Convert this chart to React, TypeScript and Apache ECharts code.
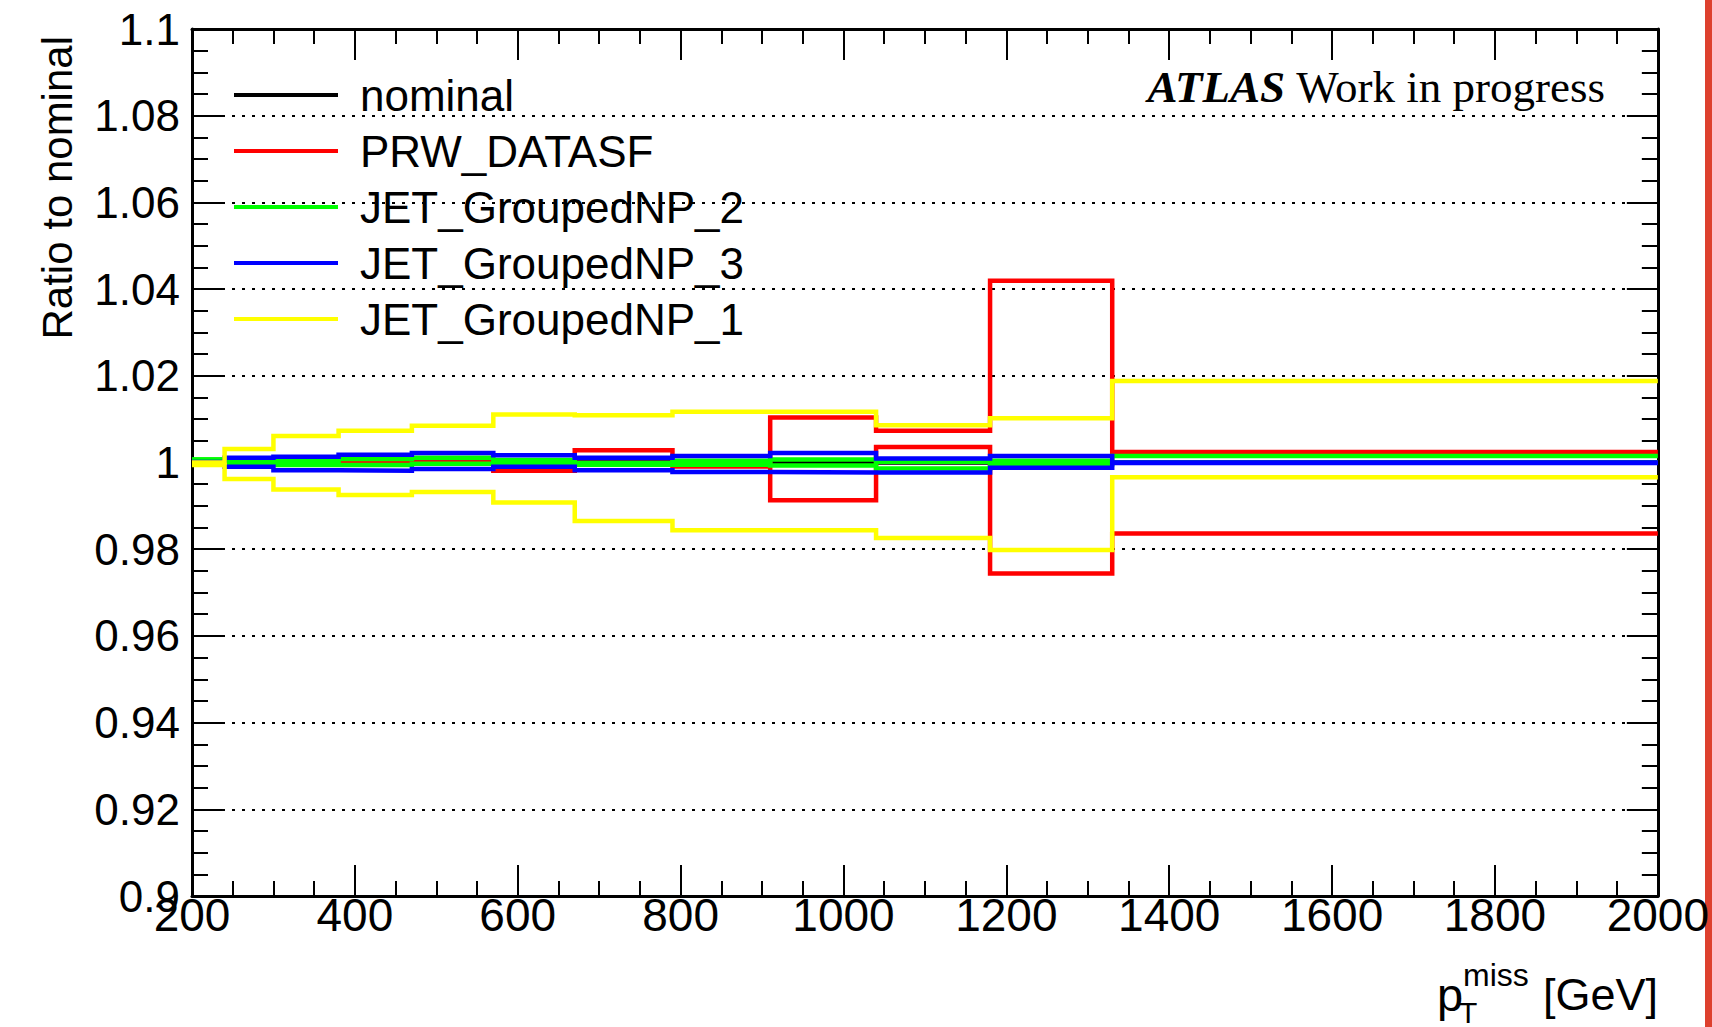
import React, { useEffect, useRef } from "react";
import * as echarts from "echarts";

// Bin edges of the missing-pT histogram [GeV]
const binEdges = [200, 240, 300, 380, 470, 570, 670, 790, 910, 1040, 1180, 1330, 2000];

// Ratios to nominal, one value per bin
const nominal = [1, 1, 1, 1, 1, 1, 1, 1, 1, 1, 1, 1];
const prwUp = [1.0, 1.0002, 1.0, 1.0, 1.0, 1.0, 1.0028, 1.0, 1.0104, 1.0073, 1.0419, 1.0024];
const prwDown = [1.0, 1.0, 1.0, 1.0, 0.9998, 0.9981, 0.9996, 0.9991, 0.9913, 1.0036, 0.9744, 0.9836];
const np2Up = [1.0007, 1.0001, 1.0004, 1.0008, 1.0011, 1.0006, 0.9998, 1.0004, 1.0007, 1.0002, 1.0004, 1.0015];
const np2Down = [1.0007, 0.9999, 0.9994, 0.9994, 0.9997, 0.9997, 0.9995, 0.9995, 0.9993, 0.9986, 0.9996, 1.0];
const np3Up = [1.0001, 1.0011, 1.0013, 1.0018, 1.0022, 1.0017, 1.0011, 1.0015, 1.0022, 1.0009, 1.0015, 1.0];
const np3Down = [0.9999, 0.999, 0.9982, 0.9981, 0.9985, 0.999, 0.9982, 0.9978, 0.9977, 0.9977, 0.9988, 0.9999];
const np1Up = [1.0, 1.0031, 1.0061, 1.0073, 1.0085, 1.0111, 1.0109, 1.0117, 1.0117, 1.0086, 1.0102, 1.0188];
const np1Down = [0.9994, 0.9962, 0.9938, 0.9925, 0.9932, 0.9908, 0.9865, 0.9844, 0.9844, 0.9826, 0.9798, 0.9966];

const xTicks = { min: 200, max: 2000, step: 200 };
const yTicks = { min: 0.9, max: 1.1, step: 0.02 };

const legendNames = ["nominal", "PRW_DATASF", "JET_GroupedNP_2", "JET_GroupedNP_3", "JET_GroupedNP_1"];
const legendColors = ["#000000", "#ff0000", "#00ff00", "#0000ff", "#ffff00"];

const SANS = "'Liberation Sans', Arial, Helvetica, sans-serif";
const SERIF = "'Liberation Serif', 'Times New Roman', serif";

// Turn per-bin values into an outline of a step histogram
function histOutline(values: number[]): number[][] {
  const pts: number[][] = [];
  values.forEach((v, i) => {
    pts.push([binEdges[i], v]);
    pts.push([binEdges[i + 1], v]);
  });
  return pts;
}

function histSeries(name: string, color: string, values: number[]) {
  return {
    type: "line",
    name,
    data: histOutline(values),
    showSymbol: false,
    symbol: "none",
    color,
    itemStyle: { color },
    lineStyle: { color, width: 4.5, join: "miter", cap: "butt" },
    silent: true,
  };
}

function makeAxis(extra: any, range: { min: number; max: number; step: number }, tickLen: number, minorLen: number) {
  return {
    type: "value",
    min: range.min,
    max: range.max,
    interval: range.step,
    axisLine: { show: true, onZero: false, lineStyle: { color: "#000", width: 3 } },
    axisTick: { show: true, inside: true, length: tickLen, lineStyle: { color: "#000", width: 2 } },
    minorTick: { show: true, splitNumber: 4, length: minorLen, lineStyle: { color: "#000", width: 2 } },
    splitLine: { show: false },
    ...extra,
  };
}

export default function App() {
  const ref = useRef<HTMLDivElement>(null);

  useEffect(() => {
    if (!ref.current) return;
    const chart = echarts.init(ref.current, undefined, { renderer: "svg" });

    const series = [
      histSeries("nominal", legendColors[0], nominal),
      histSeries("PRW_DATASF", legendColors[1], prwUp),
      histSeries("PRW_DATASF", legendColors[1], prwDown),
      histSeries("JET_GroupedNP_2", legendColors[2], np2Up),
      histSeries("JET_GroupedNP_2", legendColors[2], np2Down),
      histSeries("JET_GroupedNP_3", legendColors[3], np3Up),
      histSeries("JET_GroupedNP_3", legendColors[3], np3Down),
      histSeries("JET_GroupedNP_1", legendColors[4], np1Up),
      histSeries("JET_GroupedNP_1", legendColors[4], np1Down),
    ];

    chart.setOption({
      animation: false,
      backgroundColor: "#ffffff",
      grid: { left: 192, right: 45, top: 29, bottom: 131, containLabel: false },
      xAxis: [
        makeAxis(
          {
            position: "bottom",
            axisLabel: {
              show: true,
              fontSize: 46,
              fontFamily: SANS,
              color: "#000",
              margin: -4,
              formatter: (v: number) => String(v),
            },
          },
          xTicks,
          31,
          15
        ),
        makeAxis({ position: "top", axisLabel: { show: false } }, xTicks, 31, 15),
      ],
      yAxis: [
        makeAxis(
          {
            position: "left",
            axisLabel: {
              show: true,
              fontSize: 44,
              fontFamily: SANS,
              color: "#000",
              margin: 12,
              formatter: (v: number) => String(parseFloat(v.toFixed(3))),
            },
            splitLine: { show: true, lineStyle: { color: "#000", width: 2, type: [3, 7] } },
          },
          yTicks,
          31,
          16
        ),
        makeAxis({ position: "right", axisLabel: { show: false } }, yTicks, 31, 16),
      ],
      legend: {
        data: legendNames,
        orient: "vertical",
        left: 234,
        top: 67,
        padding: 0,
        itemGap: 0,
        itemWidth: 104,
        itemHeight: 4,
        icon: "rect",
        selectedMode: false,
        textStyle: {
          fontSize: 44,
          fontFamily: SANS,
          color: "#000",
          lineHeight: 56,
          padding: [0, 0, 0, 17],
        },
      },
      series,
      graphic: [
        {
          type: "text",
          x: 1605,
          y: 87,
          style: {
            text: "{a|ATLAS}{b|\u00a0Work in progress}",
            align: "right",
            verticalAlign: "middle",
            rich: {
              a: { fontFamily: SERIF, fontSize: 45, fontWeight: "bold", fontStyle: "italic", fill: "#000" },
              b: { fontFamily: SERIF, fontSize: 45, fill: "#000" },
            },
          },
        },
        {
          type: "text",
          x: 57,
          y: 36,
          rotation: Math.PI / 2,
          style: {
            text: "Ratio to nominal",
            fontFamily: SANS,
            fontSize: 42,
            fill: "#000",
            align: "right",
            verticalAlign: "middle",
          },
        },
        {
          type: "text",
          x: 1437,
          y: 994,
          style: { text: "p", fontFamily: SANS, fontSize: 47, fill: "#000", align: "left", verticalAlign: "middle" },
        },
        {
          type: "text",
          x: 1463,
          y: 975,
          style: { text: "miss", fontFamily: SANS, fontSize: 32, fill: "#000", align: "left", verticalAlign: "middle" },
        },
        {
          type: "text",
          x: 1459,
          y: 1012,
          style: { text: "T", fontFamily: SANS, fontSize: 30, fill: "#000", align: "left", verticalAlign: "middle" },
        },
        {
          type: "text",
          x: 1658,
          y: 994,
          style: { text: "[GeV]", fontFamily: SANS, fontSize: 45, fill: "#000", align: "right", verticalAlign: "middle" },
        },
        {
          type: "rect",
          shape: { x: 1705, y: 0, width: 7, height: 1027 },
          style: { fill: "#dd402e" },
        },
      ],
    });

    return () => chart.dispose();
  }, []);

  return (
    <div
      ref={ref}
      style={{ position: "fixed", left: 0, top: 0, width: 1712, height: 1027, background: "#fff" }}
    />
  );
}
